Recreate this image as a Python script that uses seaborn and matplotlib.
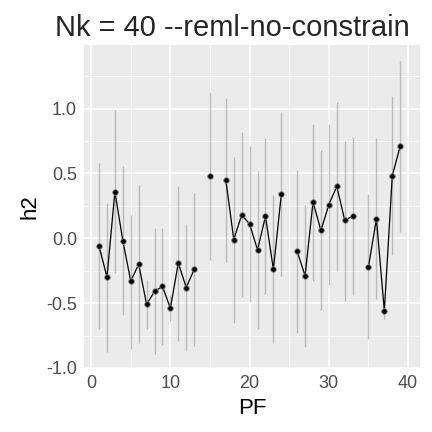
import numpy as np
import pandas as pd
import matplotlib
matplotlib.use('Agg')
import matplotlib.pyplot as plt
import seaborn as sns

pf = list(range(1, 40))
h2 = [-0.06, -0.30, 0.36, -0.02, -0.33, -0.20, -0.51, -0.41, -0.37, -0.54,
      -0.19, -0.38, -0.24, np.nan, 0.48, np.nan, 0.45, -0.01, 0.18, 0.11,
      -0.09, 0.17, -0.24, 0.34, np.nan, -0.10, -0.29, 0.28, 0.06, 0.26,
      0.40, 0.14, 0.17, np.nan, -0.22, 0.15, -0.56, 0.48, 0.71]
lo = [-0.70, -0.88, -0.27, -0.59, -0.85, -0.81, -0.70, -0.89, -0.82, -0.64,
      -0.79, -0.87, -0.83, np.nan, -0.17, np.nan, -0.18, -0.65, -0.45, -0.49,
      -0.70, -0.43, -0.81, -0.29, np.nan, -0.73, -0.84, -0.33, -0.55, -0.36,
      -0.25, -0.48, -0.44, np.nan, -0.78, -0.47, -0.62, -0.13, 0.05]
hi = [0.58, 0.27, 0.99, 0.56, 0.18, 0.41, -0.32, 0.08, 0.08, -0.44,
      0.40, 0.11, 0.35, np.nan, 1.13, np.nan, 1.08, 0.63, 0.82, 0.71,
      0.52, 0.77, 0.33, 0.97, np.nan, 0.53, 0.26, 0.88, 0.68, 0.88,
      1.05, 0.75, 0.78, np.nan, 0.34, 0.77, -0.50, 1.10, 1.37]

df = pd.DataFrame({'PF': pf, 'h2': h2, 'lo': lo, 'hi': hi})

sns.set_theme(style='darkgrid', rc={'axes.facecolor': '#EBEBEB', 'grid.color': 'white'})
plt.rcParams['font.family'] = ['Liberation Sans', 'DejaVu Sans']

fig = plt.figure(figsize=(4.32, 4.32), dpi=100)
ax = fig.add_axes([84/432, 1 - 368/432, 336/432, 323/432])

ax.vlines(df['PF'], df['lo'], df['hi'], color='#999999', alpha=0.6, lw=1)
ax.plot(df['PF'], df['h2'], color='black', lw=0.9)
sns.scatterplot(data=df, x='PF', y='h2', ax=ax, color='black', s=16,
                edgecolor='#888888', linewidth=0.6, zorder=3)

ax.set_xlim(-0.9, 41.5)
ax.set_ylim(-1.0, 1.49)
ax.set_xticks([0, 10, 20, 30, 40])
ax.set_yticks([-1.0, -0.5, 0.0, 0.5, 1.0])
ax.set_yticklabels(['-1.0', '-0.5', '0.0', '0.5', '1.0'])
ax.set_xticks([5, 15, 25, 35], minor=True)
ax.set_yticks([-0.75, -0.25, 0.25, 0.75, 1.25], minor=True)
ax.grid(which='major', color='white', lw=1.1)
ax.grid(which='minor', color='white', lw=0.5)
ax.tick_params(which='major', length=3, color='#333333', labelsize=13, labelcolor='#4D4D4D', pad=2)
ax.tick_params(which='minor', length=0)
for s in ax.spines.values():
    s.set_visible(False)
ax.set_xlabel('PF', fontsize=16, color='black')
ax.set_ylabel('h2', fontsize=16, color='black')
fig.text(55/432, 1 - 28/432, 'Nk = 40 --reml-no-constrain', fontsize=21, va='center', ha='left')

fig.savefig('out.png', dpi=100)
